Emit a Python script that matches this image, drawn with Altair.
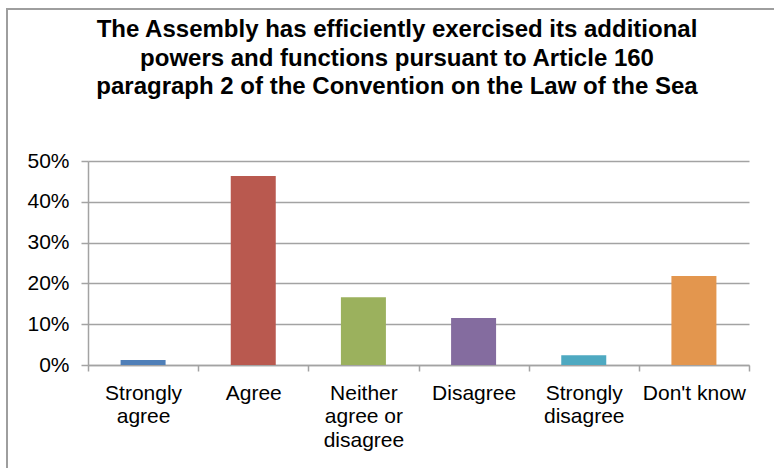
import json

import altair as alt
import pandas as pd

# Survey answers, in axis order
answers = [
    "Strongly agree",
    "Agree",
    "Neither agree or disagree",
    "Disagree",
    "Strongly disagree",
    "Don't know",
]
# How each answer is broken over lines under the axis
label_lines = [
    ["Strongly", "agree"],
    ["Agree"],
    ["Neither", "agree or", "disagree"],
    ["Disagree"],
    ["Strongly", "disagree"],
    ["Don't know"],
]
# Share of respondents per answer
shares = [0.012, 0.463, 0.166, 0.115, 0.024, 0.218]
bar_colors = ["#4F7FB8", "#B9594F", "#9BB15D", "#846C9F", "#4EA9C1", "#E3964E"]
y_ticks = [0, 0.1, 0.2, 0.3, 0.4, 0.5]
title_lines = [
    "The Assembly has efficiently exercised its additional",
    "powers and functions pursuant to Article 160",
    "paragraph 2 of the Convention on the Law of the Sea",
]

W, H = 661, 204
GRAY = "#A3A3A3"
FONT = "Liberation Sans"

df = pd.DataFrame({"answer": answers, "share": shares})

# Multi-line category labels; the extra boundary tick gets no text
label_expr = "''"
for a, lines in reversed(list(zip(answers, label_lines))):
    label_expr = f"datum.value === {json.dumps(a)} ? {json.dumps(lines)} : ({label_expr})"

bars = (
    alt.Chart(df)
    .mark_bar(size=45)
    .encode(
        x=alt.X(
            "answer:N",
            sort=answers,
            scale=alt.Scale(paddingInner=0, paddingOuter=0),
            axis=alt.Axis(
                title=None,
                labelAngle=0,
                labelExpr=label_expr,
                labelFont=FONT,
                labelFontSize=21,
                labelColor="#000000",
                labelLineHeight=23.5,
                labelPadding=11,
                labelBaseline="top",
                tickBand="extent",
                tickSize=6,
                tickColor=GRAY,
                tickWidth=1.5,
                domainColor=GRAY,
                domainWidth=1.5,
                grid=False,
            ),
        ),
        y=alt.Y(
            "share:Q",
            scale=alt.Scale(domain=[0, 0.5], nice=False),
            axis=alt.Axis(
                title=None,
                values=y_ticks,
                format=".0%",
                labelFont=FONT,
                labelFontSize=21,
                labelColor="#000000",
                labelPadding=12,
                tickSize=7,
                tickColor=GRAY,
                tickWidth=1.5,
                domain=True,
                domainColor=GRAY,
                domainWidth=1.5,
                grid=True,
                gridColor=GRAY,
                gridWidth=1.5,
            ),
        ),
        color=alt.Color(
            "answer:N",
            sort=answers,
            scale=alt.Scale(domain=answers, range=bar_colors),
            legend=None,
        ),
    )
)

one_row = pd.DataFrame({"f": [0]})

# Outer chart frame
frame = (
    alt.Chart(one_row)
    .mark_rect(fill=None, stroke="#9E9E9E", strokeWidth=2)
    .encode(
        x=alt.value(-81),
        x2=alt.value(W + 60),
        y=alt.value(-152),
        y2=alt.value(H + 140),
    )
)

# Three-line bold heading above the plot
heading = (
    alt.Chart(one_row)
    .mark_text(
        text=title_lines,
        font=FONT,
        fontSize=24,
        fontWeight="bold",
        color="#000000",
        lineHeight=28.5,
        align="center",
        baseline="middle",
    )
    .encode(x=alt.value(309), y=alt.value(-131))
)

chart = (
    alt.layer(frame, heading, bars)
    .properties(
        width=W,
        height=H,
        autosize=alt.AutoSizeParams(type="none"),
        padding={"left": 88, "top": 161, "right": 774 - 88 - W, "bottom": 468 - 161 - H},
        background="#FFFFFF",
    )
    .configure_view(stroke=None)
)

chart.save("out.html", embed_options={"renderer": "svg", "actions": False})
